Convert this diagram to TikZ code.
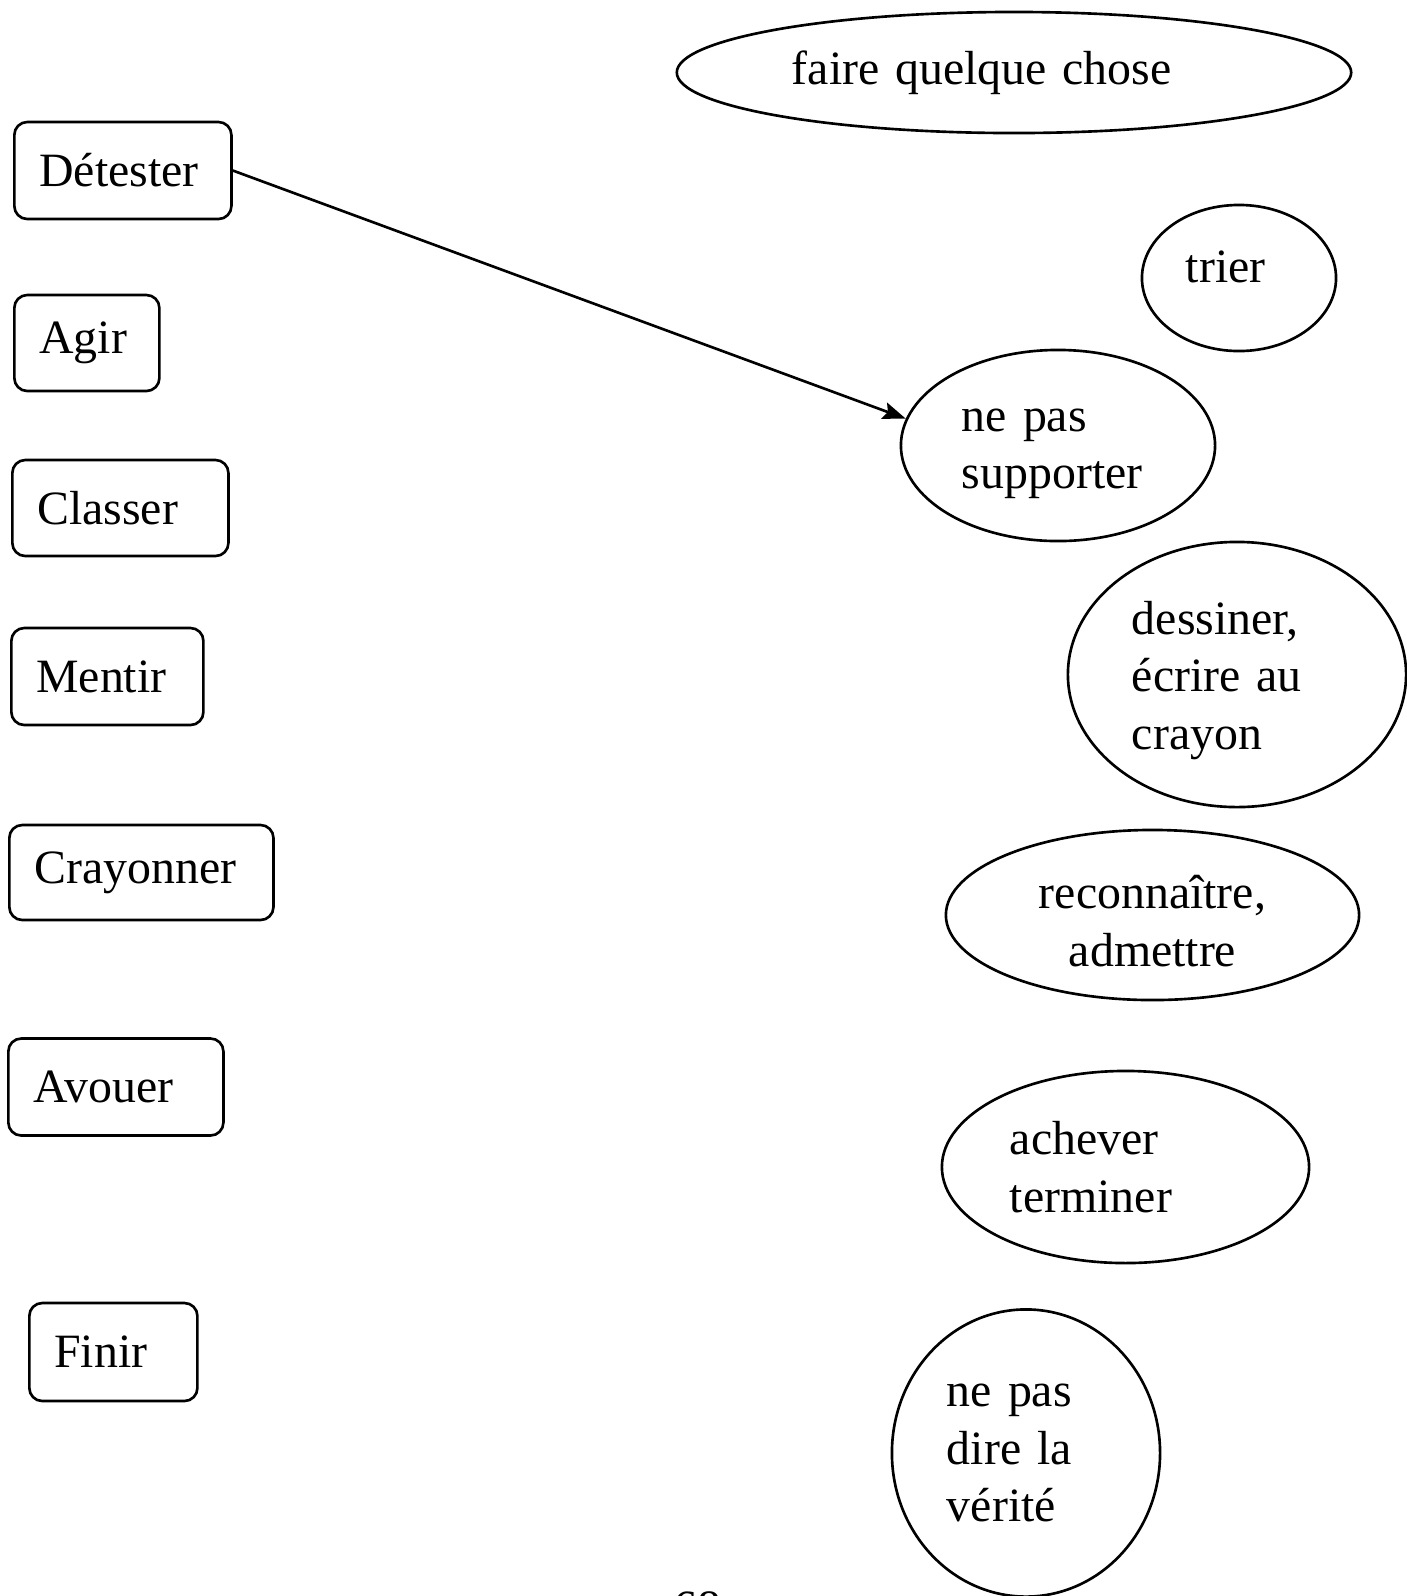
\documentclass[tikz,border=0pt]{standalone}
\usepackage{fontspec}
\setmainfont{Liberation Serif}
\usetikzlibrary{shapes.geometric,arrows.meta}
\begin{document}
\begin{tikzpicture}[x=0.01cm,y=-0.01cm,
  every node/.style={font=\fontsize{13.6}{16.3}\selectfont},
  verb/.style={draw,rounded corners=0.13cm,line width=0.75pt,inner xsep=0.25cm,inner ysep=0pt,align=left,anchor=west},
  sense/.style={draw,ellipse,line width=0.75pt,inner sep=0pt},
  inlabel/.style={inner sep=0pt,align=left},
  link/.style={line width=0.75pt,-{Stealth[length=0.23cm,width=0.17cm,inset=0.04cm]}}]
\useasboundingbox (0,0) rectangle (1407,1596);
% verbs
\node[verb,text width=1.67cm,minimum height=0.97cm] (det) at (13,170.5) {Détester};
\node[verb,text width=0.95cm,minimum height=0.96cm] (agir) at (13,343) {Agir};
\node[verb,text width=1.66cm,minimum height=0.96cm] (classer) at (11,508) {Classer};
\node[verb,text width=1.42cm,minimum height=0.97cm] (mentir) at (10,676.5) {Mentir};
\node[verb,text width=2.14cm,minimum height=0.95cm] (crayonner) at (8,872.5) {Crayonner};
\node[verb,text width=1.65cm,minimum height=0.97cm] (avouer) at (7,1087) {Avouer};
\node[verb,text width=1.18cm,minimum height=0.98cm] (finir) at (28,1352) {Finir};
% senses
\node[sense,minimum width=6.74cm,minimum height=1.21cm,text width=4.44cm,align=left] (fqc) at (1014,72.5) {faire quelque chose};
\node[sense,minimum width=1.94cm,minimum height=1.46cm,text width=1.06cm,align=left,text depth=0.22cm] (trier) at (1239,278) {trier};
\node[sense,minimum width=3.14cm,minimum height=1.91cm,
  label={[inlabel,text width=1.92cm,yshift=-0.08cm]center:{ne pas\\supporter}}] (nps) at (1058,445.5) {};
\node[sense,minimum width=3.38cm,minimum height=2.65cm,
  label={[inlabel,text width=2.10cm,yshift=-0.06cm]center:{dessiner,\\écrire au\\crayon}}] (dess) at (1237,674.5) {};
\node[sense,minimum width=4.13cm,minimum height=1.70cm,
  label={[inlabel,align=center,yshift=-0.06cm]center:{reconnaître,\\admettre}}] (reco) at (1152.5,915) {};
\node[sense,minimum width=3.67cm,minimum height=1.92cm,text width=2.31cm,align=left] (ach) at (1125.5,1167) {achever\\terminer};
\node[sense,minimum width=2.68cm,minimum height=2.87cm,text width=1.58cm,align=left] (npd) at (1026,1453) {ne pas\\dire la\\vérité};
% page number (cut off at the bottom)
\node[anchor=base] (page) at (697,1623) {68};
% connector
\draw[link] (det.east) -- (nps.170);
\end{tikzpicture}
\end{document}
